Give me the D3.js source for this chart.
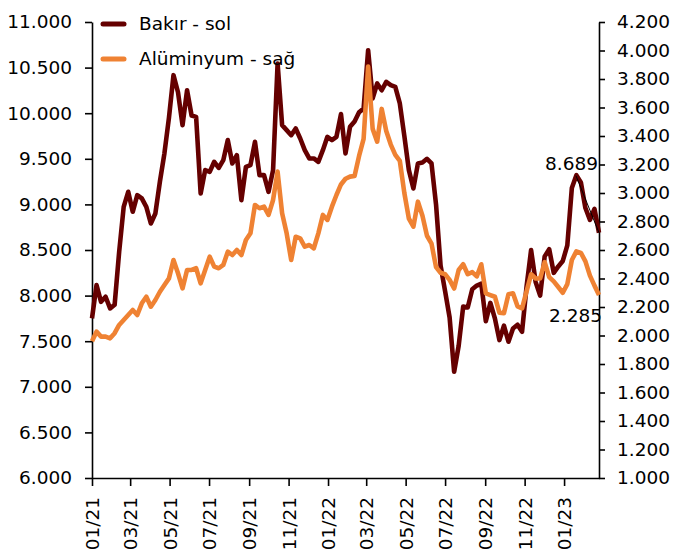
<!DOCTYPE html>
<html>
  <head>
    <meta charset="utf-8">
    <title>Bakır - Alüminyum</title>
    <script type="text/javascript" src="https://d3js.org/d3.v7.min.js"></script>
    <style>
      body { margin: 0; background: #fff; }
      text { font-family: "DejaVu Sans", sans-serif; fill: #000; }
    </style>
  </head>
  <body>
    <script type="text/javascript">
    var w = 676;
    var h = 557;

    // weekly closes, first week 01.01.2021
    var startDate = new Date(2021, 0, 1);
    var endDate = new Date(2023, 1, 24);
    var seriesNames = ["Bakır - sol", "Alüminyum - sağ"];
    var bakir = [
      7750, 8115, 7932, 7987, 7860, 7900, 8480, 8973, 9138, 8919,
      9102, 9066, 8973, 8791, 8901, 9250, 9560, 9950, 10417, 10230,
      9869, 10252, 9975, 9960, 9120, 9376, 9357, 9467, 9400, 9485,
      9705, 9449, 9540, 9047, 9412, 9430, 9686, 9321, 9321, 9138,
      9376, 10545, 9869, 9814, 9759, 9832, 9723, 9595, 9504, 9504,
      9467, 9595, 9741, 9705, 9741, 9990, 9559, 9851, 9910, 10010,
      10050, 10691, 10162, 10326, 10252, 10344, 10308, 10289, 10107, 9750,
      9376, 9175, 9449, 9460, 9500, 9449, 9000, 8330, 8050, 7760,
      7165, 7450, 7880, 7870, 8070, 8110, 8130, 7720, 7920, 7750,
      7512, 7670, 7494, 7640, 7680, 7604, 8100, 8499, 8150, 8000,
      8430, 8510, 8250, 8320, 8380, 8550, 9180, 9320, 9240, 8960,
      8830, 8950, 8689
    ];
    var aluminyum = [
      1960, 2027, 1992, 1992, 1980, 2016, 2074, 2109, 2144, 2179,
      2144, 2226, 2272, 2202, 2249, 2307, 2354, 2401, 2530, 2437,
      2331, 2460, 2460, 2472, 2366, 2460, 2553, 2483, 2472, 2495,
      2588, 2565, 2600, 2565, 2670, 2717, 2916, 2893, 2904, 2846,
      2951, 3150, 2858, 2717, 2530, 2693, 2682, 2623, 2635, 2612,
      2717, 2846, 2811, 2904, 2986, 3060, 3100, 3115, 3120, 3260,
      3380, 3887, 3450, 3360, 3590, 3435, 3340, 3267, 3225, 3000,
      2820, 2764, 2939, 2840, 2700, 2645, 2480, 2440, 2430, 2390,
      2330, 2460, 2500, 2430, 2445, 2415, 2500, 2296, 2284, 2272,
      2160, 2156, 2290, 2296, 2205, 2191, 2310, 2430, 2400, 2400,
      2515, 2410, 2380, 2340, 2300, 2360, 2530, 2590, 2580, 2520,
      2420, 2350, 2285
    ];
    var leftTicks = d3.range(6000, 11001, 500);
    var rightTicks = d3.range(1000, 4201, 200);

    var dates = d3.timeFriday.range(startDate, d3.timeDay.offset(endDate, 1));

    var trLocale = d3.formatLocale({decimal: ",", thousands: ".", grouping: [3], currency: ["", " TL"]});
    var fmt = trLocale.format(",.0f");

    var padL = 92, padR = 599, padT = 22, padB = 478;

    var xScale = d3.scaleTime()
                   .domain([startDate, endDate])
                   .range([padL, padR]);
    var yLeft = d3.scaleLinear()
                  .domain([6000, 11000])
                  .range([padB, padT]);
    var yRight = d3.scaleLinear()
                   .domain([1000, 4200])
                   .range([padB, padT]);

    var svg = d3.select("body")
                .append("svg")
                .attr("width", w)
                .attr("height", h);

    // axes
    var axL = svg.append("g")
       .attr("transform", "translate(" + padL + ",0)")
       .call(d3.axisLeft(yLeft).tickValues(leftTicks).tickFormat(fmt)
               .tickSize(7).tickSizeOuter(0).tickPadding(13));
    var axR = svg.append("g")
       .attr("transform", "translate(" + padR + ",0)")
       .call(d3.axisRight(yRight).tickValues(rightTicks).tickFormat(fmt)
               .tickSize(6).tickSizeOuter(0).tickPadding(12));
    var axX = svg.append("g")
       .attr("transform", "translate(0," + padB + ")")
       .call(d3.axisBottom(xScale).ticks(d3.timeMonth.every(2))
               .tickFormat(d3.timeFormat("%m/%y"))
               .tickSize(8).tickSizeOuter(0));
    axX.selectAll("text")
       .attr("transform", "rotate(-90)")
       .attr("x", -19)
       .attr("y", 0)
       .attr("dy", "0.35em")
       .attr("text-anchor", "end");

    [axL, axR, axX].forEach(function(g){
      g.select(".domain").attr("stroke", "#000").attr("stroke-width", 1.6);
      g.selectAll(".tick line").attr("stroke", "#000").attr("stroke-width", 1.6);
      g.selectAll("text").attr("font-size", "18.5px").attr("font-family", "DejaVu Sans").attr("fill", "#000");
    });

    // lines
    var lineL = d3.line()
                  .x(function(d, i){ return xScale(dates[i]); })
                  .y(function(d){ return yLeft(d); });
    var lineR = d3.line()
                  .x(function(d, i){ return xScale(dates[i]); })
                  .y(function(d){ return yRight(d); });

    svg.append("path")
       .attr("d", lineL(bakir))
       .attr("fill", "none")
       .attr("stroke", "#650000")
       .attr("stroke-width", 4.6)
       .attr("stroke-linejoin", "round");
    svg.append("path")
       .attr("d", lineR(aluminyum))
       .attr("fill", "none")
       .attr("stroke", "#ef8233")
       .attr("stroke-width", 4.6)
       .attr("stroke-linejoin", "round");

    // end labels
    var n = bakir.length - 1;
    var bx = xScale(dates[n]), by = yLeft(bakir[n]);
    svg.append("line")
       .attr("x1", bx).attr("y1", by)
       .attr("x2", bx - 23).attr("y2", by - 57)
       .attr("stroke", "#000").attr("stroke-width", 1);
    svg.append("text")
       .attr("x", bx - 1).attr("y", by - 63)
       .attr("text-anchor", "end")
       .attr("font-size", "18.5px")
       .text(fmt(bakir[n]));
    var ax = xScale(dates[n]), ay = yRight(aluminyum[n]);
    svg.append("text")
       .attr("x", ax + 3).attr("y", ay + 27)
       .attr("text-anchor", "end")
       .attr("font-size", "18.5px")
       .text(d3.format(".3f")(aluminyum[n] / 1000));

    // legend
    var colors = ["#650000", "#ef8233"];
    var legend = svg.selectAll("g.legend")
       .data(seriesNames)
       .enter()
       .append("g")
       .attr("class", "legend")
       .attr("transform", function(d, i){ return "translate(0," + (24 + i * 35) + ")"; });
    legend.append("line")
       .attr("x1", 103).attr("x2", 124)
       .attr("y1", 0).attr("y2", 0)
       .attr("stroke", function(d, i){ return colors[i]; })
       .attr("stroke-width", 5)
       .attr("stroke-linecap", "round");
    legend.append("text")
       .attr("x", 139)
       .attr("y", 0)
       .attr("dy", "0.35em")
       .attr("font-size", "18.5px")
       .text(function(d){ return d; });
    </script>
  </body>
</html>
